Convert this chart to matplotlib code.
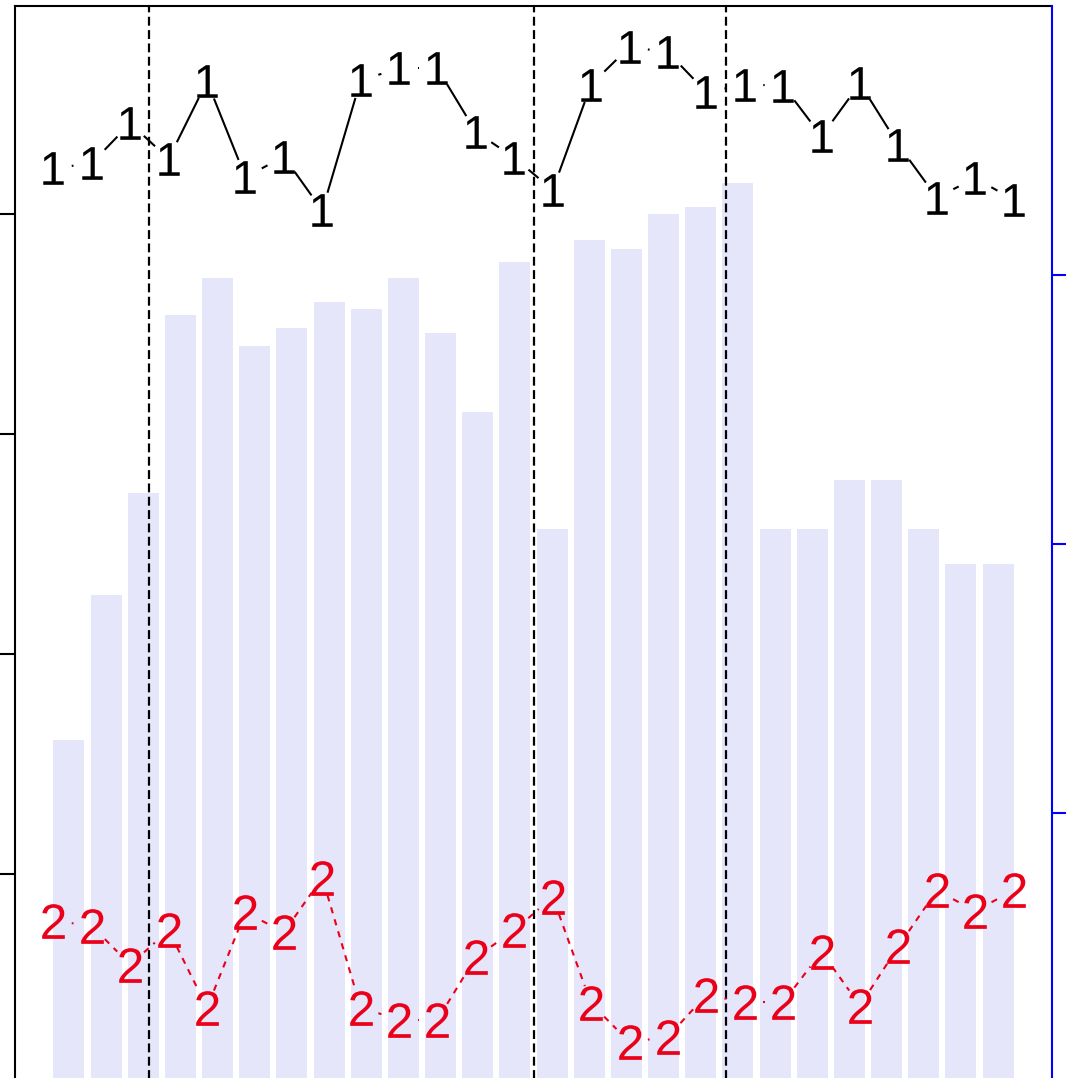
import numpy as np
import matplotlib
matplotlib.use("Agg")
import matplotlib.pyplot as plt
from matplotlib.textpath import TextPath
from matplotlib.font_manager import FontProperties, findfont
from matplotlib.path import Path

# ---- data ----
bar_values = [161, 227, 273, 354, 371, 340, 348, 360, 357, 371, 346, 310, 378,
              257, 388, 384, 400, 403, 414, 257, 257, 279, 279, 257, 241, 241]
series1 = [0.849, 0.854, 0.891, 0.858, 0.930, 0.841, 0.860, 0.810, 0.931, 0.942,
           0.942, 0.883, 0.859, 0.829, 0.927, 0.962, 0.957, 0.920, 0.927, 0.926,
           0.879, 0.928, 0.871, 0.822, 0.840, 0.820]
series2 = [0.150, 0.145, 0.109, 0.141, 0.069, 0.158, 0.139, 0.190, 0.069, 0.058,
           0.058, 0.116, 0.141, 0.172, 0.073, 0.037, 0.042, 0.081, 0.074, 0.074,
           0.121, 0.071, 0.126, 0.178, 0.159, 0.178]
series_symbols = ['1', '2']
break_positions = [3.5, 13.5, 18.5]
left_ticks = [100, 200, 300, 400]
right_ticks = [0.25, 0.5, 0.75]

# pick an Arial-like font that is really installed
font_path = None
for fam in ['Arimo', 'Liberation Sans', 'Arial', 'Helvetica', 'Nimbus Sans', 'Roboto']:
    try:
        font_path = findfont(FontProperties(family=fam), fallback_to_default=False)
        break
    except Exception:
        continue
glyph_prop = FontProperties(fname=font_path) if font_path else FontProperties(family='DejaVu Sans')

W, H = 1066, 1078
fig = plt.figure(figsize=(W / 100, H / 100), dpi=100)
fig.patch.set_facecolor('white')

left_px, right_px, top_px, bottom_px = 15, 1052, 6, 1082
rect = [left_px / W, (H - bottom_px) / H, (right_px - left_px) / W, (bottom_px - top_px) / H]

# ---- bar layer (left axis) ----
axb = fig.add_axes(rect)
n = len(bar_values)
bar_x = 0.7 + 1.2 * np.arange(n)
axb.bar(bar_x, bar_values, width=1.0, color='#E6E6FA', edgecolor='none', zorder=1)
axb.set_xlim(-1.04, 32.44)
axb.set_ylim(5.45, 494.5)
axb.set_xticks([])
axb.set_yticks(left_ticks)
axb.tick_params(axis='y', direction='out', length=10.8, width=1.5, color='black',
                labelleft=False)
for s in ['bottom', 'right']:
    axb.spines[s].set_visible(False)
for s in ['left', 'top']:
    axb.spines[s].set_color('black')
    axb.spines[s].set_linewidth(1.5)

# ---- line layer (right axis) ----
axl = fig.add_axes(rect, facecolor='none')
axl.set_xlim(0, 27)
axl.set_ylim(0, 1)
axl.set_xticks([])
axl.yaxis.tick_right()
axl.set_yticks(right_ticks)
axl.tick_params(axis='y', direction='out', length=10.2, width=1.5, color='blue',
                labelright=False, labelleft=False, left=False, right=True)
for s in ['bottom', 'left', 'top']:
    axl.spines[s].set_visible(False)
axl.spines['right'].set_color('blue')
axl.spines['right'].set_linewidth(1.5)

for xb in break_positions:
    axl.axvline(xb, color='black', lw=1.6, linestyle=(0, (4, 2)), zorder=2)

xs = np.arange(1, n + 1)


def draw_b(ax, x, y, color, dashes, gap_px, lw):
    T = ax.transData
    P = T.transform(np.column_stack([x, y]))
    inv = T.inverted()
    for p0, p1 in zip(P[:-1], P[1:]):
        d = p1 - p0
        L = np.hypot(*d)
        if L <= 2 * gap_px:
            continue
        u = d / L
        a = inv.transform(p0 + u * gap_px)
        b = inv.transform(p1 - u * gap_px)
        ax.plot([a[0], b[0]], [a[1], b[1]], color=color, lw=lw,
                linestyle=dashes, solid_capstyle='butt', dash_capstyle='butt', zorder=3)


def glyph_marker(ch):
    tp = TextPath((0, 0), ch, size=10, prop=glyph_prop)
    v = tp.vertices.copy()
    ext = tp.get_extents()
    v[:, 0] -= (ext.x0 + ext.x1) / 2
    v[:, 1] -= (ext.y0 + ext.y1) / 2
    return Path(v, tp.codes)


red = '#EB0019'
draw_b(axl, xs, series1, 'black', '-', 18.5, 1.5)
draw_b(axl, xs, series2, red, (0, (3, 3)), 18.5, 1.5)
axl.plot(xs, series1, linestyle='none', marker=glyph_marker(series_symbols[0]), ms=23.5,
         color='black', mfc='black', mec='none', mew=0, zorder=4)
axl.plot(xs, series2, linestyle='none', marker=glyph_marker(series_symbols[1]), ms=25,
         color=red, mfc=red, mec='none', mew=0, zorder=4)

fig.savefig('out.png', dpi=100, facecolor='white')
